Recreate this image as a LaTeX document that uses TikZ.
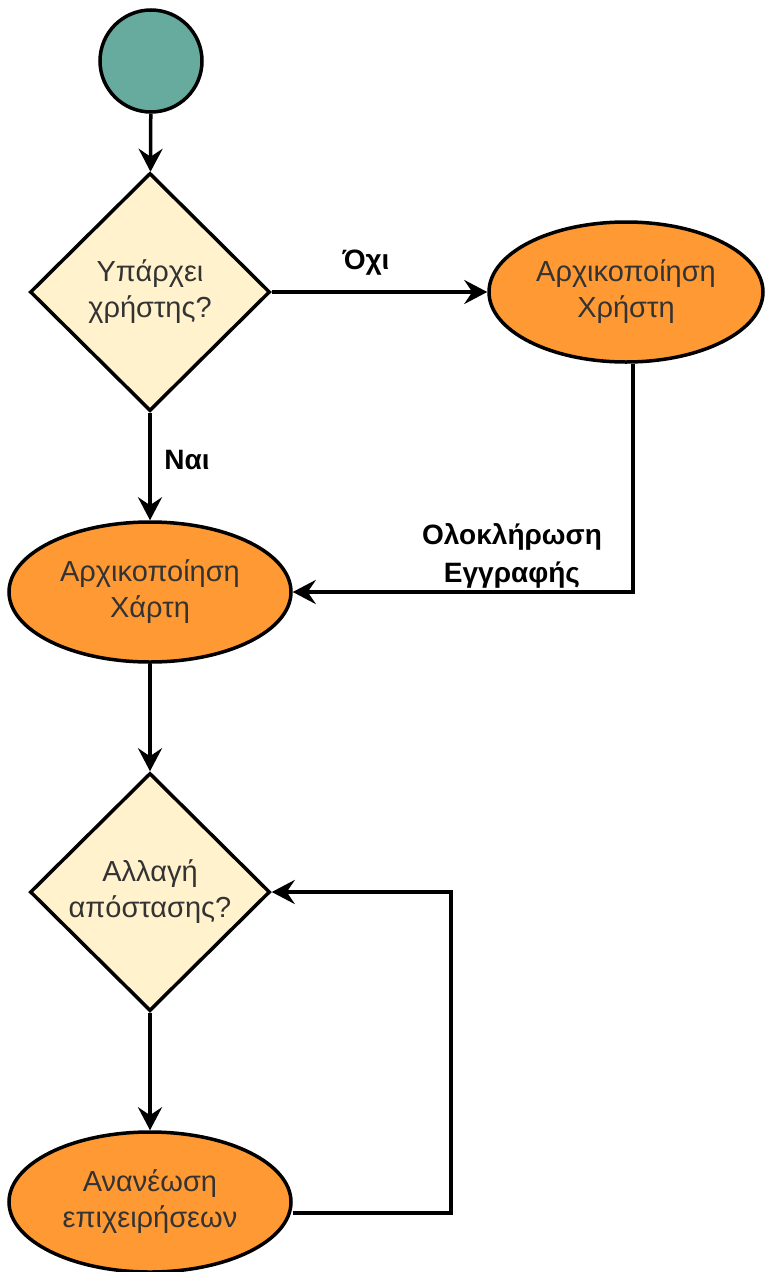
\documentclass[tikz,border=0pt]{standalone}
\usepackage{fontspec}
\setmainfont{Liberation Sans}
\usetikzlibrary{shapes.geometric,arrows.meta}
\definecolor{startgreen}{HTML}{67AB9F}
\definecolor{taskorange}{HTML}{FF9933}
\definecolor{askyellow}{HTML}{FFF2CC}
\definecolor{textgray}{HTML}{333333}
\tikzset{
    startnode/.style={circle, draw, fill=startgreen, minimum size=102pt, inner sep=0pt},
    decision/.style={diamond, draw, fill=askyellow, text=textgray, align=center,
        minimum width=240pt, minimum height=238pt, inner sep=0pt,
        font=\fontsize{29}{36}\selectfont},
    task/.style={ellipse, draw, fill=taskorange, text=textgray, align=center,
        minimum height=140pt, inner sep=0pt, font=\fontsize{29}{36}\selectfont},
    edgelabel/.style={align=center, font=\bfseries\fontsize{28}{38}\selectfont}
}

\begin{document}
\begin{tikzpicture}[x=1pt, y=-1pt, line width=3.5pt, >={Stealth[length=23pt, width=24pt, inset=8pt]}]
        \useasboundingbox (0,0) rectangle (765,1272);
        \node[startnode] (start) at (151,61) {};
        \node[decision] (hasuser) at (150,292) {Υπάρχει\\χρήστης?};
        \node[task, minimum width=274pt] (inituser) at (626,292) {Αρχικοποίηση\\Χρήστη};
        \node[task, minimum width=282pt] (initmap) at (150,592) {Αρχικοποίηση\\Χάρτη};
        \node[decision] (distance) at (150,892) {Αλλαγή\\απόστασης?};
        \node[task, minimum width=282pt] (refresh) at (150,1202) {Ανανέωση\\επιχειρήσεων};
        \coordinate (u) at (633,592);
        \coordinate (l) at (451,892);
        \coordinate (r) at (451,1213);
        \draw[->] (start) -- (hasuser);
        \draw[->] (hasuser) -- (inituser) node[edgelabel] (no) at (366,263) {Όχι};
        \draw[->] (hasuser) -- (initmap) node[edgelabel] (yes) at (187,460) {Ναι};
        \draw[->] (inituser.south -| u) -- (u) -- (initmap.east)
            node[edgelabel] (done) at (512,556) {Ολοκλήρωση\\Εγγραφής};
        \draw[->] (initmap) -- (distance);
        \draw[->] (distance) -- (refresh);
        \draw[->] (refresh.east |- r) -- (r) -- (l) -- (distance.east);
    \end{tikzpicture}
\end{document}
